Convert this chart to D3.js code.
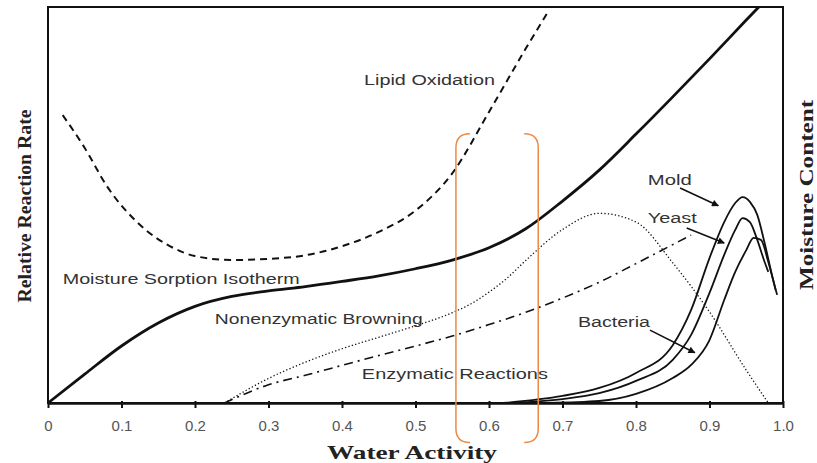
<!DOCTYPE html>
<html>
<head>
<meta charset="utf-8">
<script src="https://cdn.jsdelivr.net/npm/d3@7"></script>
<style>
  body { margin: 0; background: #fff; }
  svg { display: block; }
</style>
</head>
<body>
<div id="chart"></div>
<script>
// water activity (x) vs relative rate (0-100)
const xTicks = [0, 0.1, 0.2, 0.3, 0.4, 0.5, 0.6, 0.7, 0.8, 0.9, 1.0]
const xTickLabels = ["0", "0.1", "0.2", "0.3", "0.4", "0.5", "0.6", "0.7", "0.8", "0.9", "1.0"]

const isothermAw  = [0, 0.05, 0.1, 0.15, 0.2, 0.25, 0.3, 0.35, 0.4, 0.45, 0.5, 0.55, 0.6, 0.65, 0.7, 0.75, 0.8, 0.85, 0.9, 0.95, 0.967]
const isothermVal = [0, 7.3, 14.4, 20.2, 24.4, 26.9, 28.3, 29.4, 30.7, 32.1, 33.9, 36.1, 39.2, 44.0, 51.0, 58.8, 67.9, 77.3, 86.9, 96.7, 100]

const lipidAw  = [0.02, 0.05, 0.08, 0.125, 0.17, 0.2, 0.25, 0.3, 0.35, 0.4, 0.45, 0.5, 0.55, 0.6, 0.65, 0.68]
const lipidVal = [72.7, 64.4, 54.8, 45.0, 39.2, 37.1, 36.1, 36.4, 37.3, 39.6, 43.2, 48.6, 58.0, 73.5, 89.5, 98.7]

const browningAw  = [0.24, 0.3, 0.35, 0.4, 0.45, 0.5, 0.55, 0.575, 0.6, 0.625, 0.65, 0.7, 0.75, 0.8, 0.85, 0.9, 0.95, 0.98]
const browningVal = [0, 6.2, 10.3, 13.7, 16.6, 19.5, 22.8, 25.0, 28.0, 31.6, 36.0, 43.8, 47.9, 45.7, 35.4, 23.0, 8.3, 0]

const enzymeAw  = [0.24, 0.3, 0.35, 0.4, 0.45, 0.5, 0.55, 0.6, 0.65, 0.7, 0.75, 0.8, 0.85, 0.875]
const enzymeVal = [0, 4.6, 7.0, 9.5, 12.0, 14.4, 16.9, 19.8, 22.9, 26.5, 30.5, 35.2, 40.0, 42.4]

const moldAw  = [0.62, 0.7, 0.75, 0.8, 0.85, 0.875, 0.9, 0.92, 0.935, 0.945, 0.955, 0.965, 0.975, 0.985, 0.992]
const moldVal = [0, 1.8, 3.8, 7.6, 14.6, 23.5, 36.6, 45.7, 50.5, 52.0, 50.8, 47.5, 40.4, 32.3, 27.3]

const yeastAw  = [0.63, 0.7, 0.75, 0.8, 0.85, 0.875, 0.9, 0.92, 0.935, 0.945, 0.955, 0.965, 0.975, 0.98]
const yeastVal = [0, 1.0, 2.5, 5.6, 10.9, 17.2, 27.8, 37.4, 43.7, 46.7, 45.7, 41.2, 35.6, 33.1]

const bacteriaAw  = [0.68, 0.75, 0.8, 0.85, 0.875, 0.9, 0.92, 0.935, 0.95, 0.96, 0.97, 0.98, 0.99]
const bacteriaVal = [0, 0.5, 2.3, 6.3, 9.6, 15.9, 26.0, 33.1, 38.6, 41.7, 41.2, 35.6, 28.5]

const curveNames = ["Lipid Oxidation", "Moisture Sorption Isotherm", "Nonenzymatic Browning", "Enzymatic Reactions", "Mold", "Yeast", "Bacteria"]

const width = 817, height = 463
const margin = {top: 7, right: 34, bottom: 60, left: 48}

const svg = d3.select("#chart").append("svg")
  .attr("width", width)
  .attr("height", height)

const x = d3.scaleLinear().domain([0, 1]).range([margin.left, width - margin.right])
const y = d3.scaleLinear().domain([0, 100]).range([height - margin.bottom, margin.top])

const zip = (a, b) => a.map((d, i) => [d, b[i]])
const line = d3.line().x(d => x(d[0])).y(d => y(d[1])).curve(d3.curveMonotoneX)

// arrowhead
svg.append("defs").append("marker")
  .attr("id", "arrow")
  .attr("viewBox", "0 0 10 10")
  .attr("refX", 9).attr("refY", 5)
  .attr("markerWidth", 9).attr("markerHeight", 7)
  .attr("markerUnits", "userSpaceOnUse")
  .attr("orient", "auto")
  .append("path").attr("d", "M0,0 L10,5 L0,10 z").attr("fill", "#111")

// curves
const series = [
  {pts: zip(isothermAw, isothermVal), w: 2.8, dash: null},
  {pts: zip(lipidAw, lipidVal), w: 2, dash: "7,5"},
  {pts: zip(browningAw, browningVal), w: 1.3, dash: "1.3,2.2"},
  {pts: zip(enzymeAw, enzymeVal), w: 1.6, dash: "9,5,2,5"},
  {pts: zip(moldAw, moldVal), w: 1.8, dash: null},
  {pts: zip(yeastAw, yeastVal), w: 1.8, dash: null},
  {pts: zip(bacteriaAw, bacteriaVal), w: 1.8, dash: null}
]
svg.append("g").selectAll("path")
  .data(series)
  .enter().append("path")
    .attr("d", d => line(d.pts))
    .attr("fill", "none")
    .attr("stroke", "#111")
    .attr("stroke-width", d => d.w)
    .attr("stroke-dasharray", d => d.dash)

// frame
svg.append("rect")
  .attr("x", x(0)).attr("y", y(100))
  .attr("width", x(1) - x(0)).attr("height", y(0) - y(100))
  .attr("fill", "none").attr("stroke", "#111").attr("stroke-width", 2)

// x axis
const xAxis = svg.append("g")
  .attr("transform", "translate(0," + y(0) + ")")
  .call(d3.axisBottom(x).tickValues(xTicks).tickFormat((d, i) => xTickLabels[i]).tickSize(5).tickSizeOuter(0).tickPadding(12))
xAxis.select(".domain").attr("stroke", "#111").attr("stroke-width", 2.5)
xAxis.selectAll(".tick line").attr("stroke", "#111").attr("stroke-width", 2).attr("y1", -2)
xAxis.selectAll(".tick text")
  .attr("fill", "#555")
  .style("font-family", "'Liberation Sans', Arial, sans-serif")
  .style("font-size", "15px")

// curve labels
const labelPos = [
  {aw: 0.43, v: 81.5, len: 131},
  {aw: 0.02, v: 31.4, len: 237},
  {aw: 0.227, v: 21.2, len: 208},
  {aw: 0.427, v: 7.3, len: 186},
  {aw: 0.816, v: 56.2, len: 44},
  {aw: 0.816, v: 46.8, len: 49},
  {aw: 0.721, v: 20.5, len: 72}
]
svg.append("g").selectAll("text")
  .data(curveNames)
  .enter().append("text")
    .attr("x", (d, i) => x(labelPos[i].aw))
    .attr("y", (d, i) => y(labelPos[i].v))
    .attr("dy", "0.35em")
    .attr("textLength", (d, i) => labelPos[i].len)
    .attr("lengthAdjust", "spacingAndGlyphs")
    .attr("fill", "#333")
    .style("font-family", "'Liberation Sans', Arial, sans-serif")
    .style("font-size", "14px")
    .text(d => d)

// arrows from microbe labels
const arrows = [
  [[0.86, 54.3], [0.912, 49.8]],
  [[0.869, 44.2], [0.92, 40.4]],
  [[0.819, 18.4], [0.88, 12.7]]
]
svg.append("g").selectAll("line")
  .data(arrows)
  .enter().append("line")
    .attr("x1", d => x(d[0][0])).attr("y1", d => y(d[0][1]))
    .attr("x2", d => x(d[1][0])).attr("y2", d => y(d[1][1]))
    .attr("stroke", "#111").attr("stroke-width", 1.6)
    .attr("marker-end", "url(#arrow)")

// axis titles
svg.append("text")
  .attr("transform", "translate(" + 31 + "," + 206 + ") rotate(-90)")
  .attr("text-anchor", "middle")
  .attr("textLength", 193).attr("lengthAdjust", "spacingAndGlyphs")
  .attr("fill", "#222")
  .style("font-family", "'Liberation Serif', 'Times New Roman', serif")
  .style("font-weight", "bold").style("font-size", "19px")
  .text("Relative Reaction Rate")

svg.append("text")
  .attr("transform", "translate(" + 813 + "," + 195 + ") rotate(-90)")
  .attr("text-anchor", "middle")
  .attr("textLength", 190).attr("lengthAdjust", "spacingAndGlyphs")
  .attr("fill", "#222")
  .style("font-family", "'Liberation Serif', 'Times New Roman', serif")
  .style("font-weight", "bold").style("font-size", "19px")
  .text("Moisture Content")

svg.append("text")
  .attr("x", 412).attr("y", 459)
  .attr("text-anchor", "middle")
  .attr("textLength", 170).attr("lengthAdjust", "spacingAndGlyphs")
  .attr("fill", "#222")
  .style("font-family", "'Liberation Serif', 'Times New Roman', serif")
  .style("font-weight", "bold").style("font-size", "19px")
  .text("Water Activity")

// orange highlight brackets
const band = {x0: 0.555, x1: 0.667, top: 68, bottom: -10}
const r = 14
const bx0 = x(band.x0), bx1 = x(band.x1), bt = y(band.top), bb = y(band.bottom)
const left = d3.path()
left.moveTo(bx0 + r, bt); left.quadraticCurveTo(bx0, bt, bx0, bt + r)
left.lineTo(bx0, bb - r); left.quadraticCurveTo(bx0, bb, bx0 + r, bb)
const right = d3.path()
right.moveTo(bx1 - r, bt); right.quadraticCurveTo(bx1, bt, bx1, bt + r)
right.lineTo(bx1, bb - r); right.quadraticCurveTo(bx1, bb, bx1 - r, bb)
svg.append("g").selectAll("path")
  .data([left.toString(), right.toString()])
  .enter().append("path")
    .attr("d", d => d)
    .attr("fill", "none")
    .attr("stroke", "#ec8a45")
    .attr("stroke-width", 1.5)
</script>
</body>
</html>
